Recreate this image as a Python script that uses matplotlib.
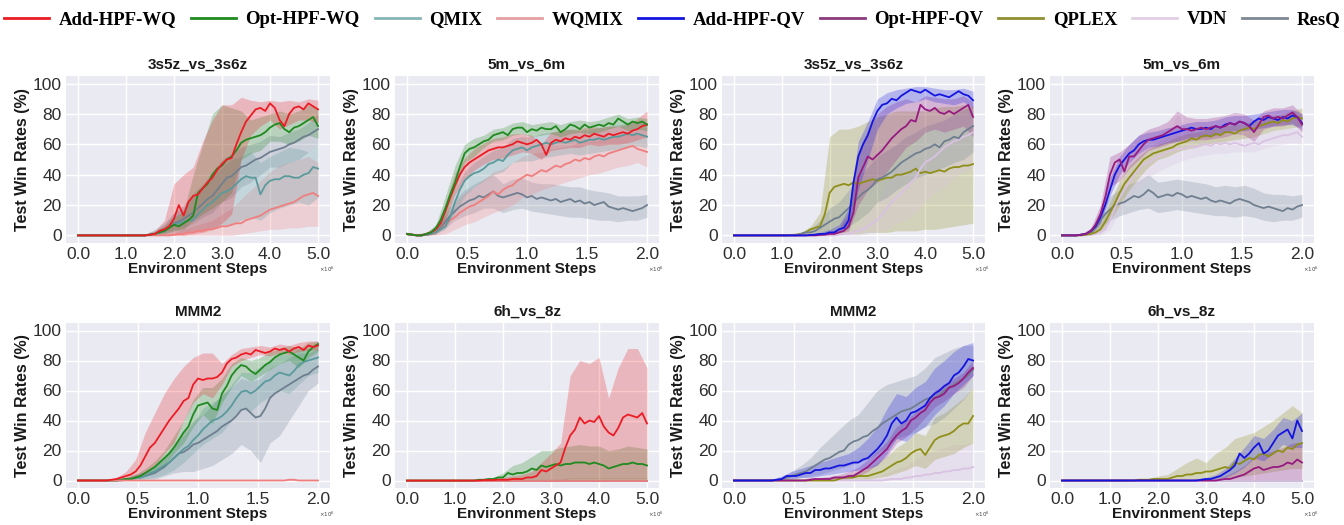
import numpy as np
import matplotlib
matplotlib.use("Agg")
import matplotlib.pyplot as plt
from matplotlib.lines import Line2D
from matplotlib.font_manager import FontProperties

# ---------------- x grids (in millions of steps) ----------------
# band grids (26 points)
steps_5 = [0.0, 0.2, 0.4, 0.6, 0.8, 1.0, 1.2, 1.4, 1.6, 1.8, 2.0, 2.2, 2.4,
           2.6, 2.8, 3.0, 3.2, 3.4, 3.6, 3.8, 4.0, 4.2, 4.4, 4.6, 4.8, 5.0]
steps_2 = [0.0, 0.08, 0.16, 0.24, 0.32, 0.40, 0.48, 0.56, 0.64, 0.72, 0.80,
           0.88, 0.96, 1.04, 1.12, 1.20, 1.28, 1.36, 1.44, 1.52, 1.60, 1.68,
           1.76, 1.84, 1.92, 2.00]
# mean-curve grids (51 points)
fine_5 = [0.0, 0.1, 0.2, 0.3, 0.4, 0.5, 0.6, 0.7, 0.8, 0.9, 1.0, 1.1, 1.2,
          1.3, 1.4, 1.5, 1.6, 1.7, 1.8, 1.9, 2.0, 2.1, 2.2, 2.3, 2.4, 2.5,
          2.6, 2.7, 2.8, 2.9, 3.0, 3.1, 3.2, 3.3, 3.4, 3.5, 3.6, 3.7, 3.8,
          3.9, 4.0, 4.1, 4.2, 4.3, 4.4, 4.5, 4.6, 4.7, 4.8, 4.9, 5.0]
fine_2 = [0.00, 0.04, 0.08, 0.12, 0.16, 0.20, 0.24, 0.28, 0.32, 0.36, 0.40,
          0.44, 0.48, 0.52, 0.56, 0.60, 0.64, 0.68, 0.72, 0.76, 0.80, 0.84,
          0.88, 0.92, 0.96, 1.00, 1.04, 1.08, 1.12, 1.16, 1.20, 1.24, 1.28,
          1.32, 1.36, 1.40, 1.44, 1.48, 1.52, 1.56, 1.60, 1.64, 1.68, 1.72,
          1.76, 1.80, 1.84, 1.88, 1.92, 1.96, 2.00]
Z26 = [0] * 26
Z51 = [0] * 51

# ---------------- Panel 1: 3s5z_vs_3s6z (WQ group) ----------------
p1_add = [0,0,0,0,0,0,0,0,0,0,0,0,0,0,0,0.5,1,3,4,6,11,20,13,22,26,27,31,35,38,43,47,50,51,60,68,75,79,83,84,82,87,84,76,72,80,84,85,83,87,85,83]
p1_add_lo = [0,0,0,0,0,0,0,0,0,0,0,0,1,2,4,8,14,50,66,72,76,70,73,76,76,74]
p1_add_hi = [0,0,0,0,0,0,0,1,3,10,34,40,45,62,76,86,86,91,89,88,89,88,89,88,90,89]
p1_opt = [0,0,0,0,0,0,0,0,0,0,0,0,0,0,0,0.5,1,2,3,5,7,6,8,10,13,28,31,34,40,44,46,50,52,56,61,63,64,65,66,68,71,73,74,70,68,71,72,74,76,78,72]
p1_opt_lo = [0,0,0,0,0,0,0,0,0,1,3,4,10,14,18,22,28,50,54,56,62,62,60,62,66,64]
p1_opt_hi = [0,0,0,0,0,0,0,1,2,6,12,16,40,60,80,86,84,82,76,78,80,82,80,82,86,84]
p1_resq = [0,0,0,0,0,0,0,0,0,0,0,0,0,0,0,0.5,1,2,3,5,8,9,11,13,15,18,21,24,26,30,34,38,39,42,45,46,48,50,51,53,55,56,57,58,60,61,63,65,66,68,70]
p1_resq_lo = [0,0,0,0,0,0,0,0,1,2,4,5,8,12,15,22,25,32,35,40,45,45,48,50,55,60]
p1_resq_hi = [0,0,0,0,0,0,0,1,3,7,15,20,28,34,42,50,54,58,60,62,66,65,68,70,74,80]
p1_qmix = [0,0,0,0,0,0,0,0,0,0,0,0,0,0,0,0.5,1,2,3,5,7,8,9,10,10,14,17,20,22,25,28,29,31,34,37,39,38,38,27,33,36,37,37,39,39,38,38,40,41,45,44]
p1_qmix_lo = [0,0,0,0,0,0,0,0,0,1,2,2,3,4,5,6,8,10,12,10,15,18,20,22,20,25]
p1_qmix_hi = [0,0,0,0,0,0,0,1,4,8,15,18,25,30,38,45,50,52,55,48,52,55,58,57,55,60]
p1_wq = [0,0,0,0,0,0,0,0,0,0,0,0,0,0,0,0,0,0,0,0,0.5,1,1,2,2,3,3,4,4,5,6,6,7,8,8,10,11,12,13,15,17,18,19,20,21,22,24,26,27,28,26]
p1_wq_lo = [0,0,0,0,0,0,0,0,0,0,0,0,0,0,0,0,0,1,2,3,4,4,5,5,6,6]
p1_wq_hi = [0,0,0,0,0,0,0,0,0,1,2,4,6,8,10,14,18,24,30,36,42,46,48,50,52,48]

# ---------------- Panel 2: 5m_vs_6m (WQ group) ----------------
p2_opt = [1,0.5,0,0,1,2,5,10,18,27,35,45,54,57,58,60,62,63,66,67,68,66,70,71,71,68,70,69,71,70,70,72,68,70,73,72,70,73,71,72,73,72,74,73,77,75,73,75,74,75,73]
p2_opt_lo = [0,0,0,2,12,30,48,52,58,62,63,66,67,65,66,67,65,67,68,67,68,70,72,69,70,69]
p2_opt_hi = [2,1,2,7,26,46,60,64,66,70,71,74,75,73,74,75,73,75,76,75,76,78,80,77,78,77]
p2_add = [1,0.5,0,0,1,2,4,8,16,25,33,40,45,48,50,52,54,56,57,58,58,59,60,62,61,60,61,63,60,53,61,63,62,64,63,65,64,66,65,67,66,65,67,66,67,68,67,69,70,72,73]
p2_add_lo = [0,0,0,1,10,27,37,43,47,50,51,53,55,54,50,56,57,58,58,60,59,60,60,61,63,65]
p2_add_hi = [2,1,2,6,21,41,51,57,61,64,65,67,67,66,60,68,69,70,70,72,71,72,72,73,77,82]
p2_qmix = [1,0.5,0,0,0.5,1,2,4,6,12,22,30,36,39,41,42,44,47,48,50,49,53,56,57,58,56,58,59,60,61,60,61,62,61,62,63,61,62,63,63,64,63,64,65,65,66,67,66,67,66,65]
p2_qmix_lo = [0,0,0,1,4,15,26,32,36,40,42,48,49,49,51,52,53,54,53,54,55,56,57,58,59,58]
p2_qmix_hi = [2,1,1,4,12,30,42,48,52,56,58,64,65,65,67,68,69,70,69,70,71,72,73,74,75,74]
p2_wq = [1,0.5,0,0,0.5,1,2,4,7,10,12,15,17,19,20,22,24,26,29,27,30,32,33,36,38,40,39,41,43,42,44,46,45,47,48,50,49,51,50,52,53,52,54,55,56,57,58,59,57,56,55]
p2_wq_lo = [0,0,0,0,1,4,7,9,12,15,17,20,25,27,30,32,34,36,38,40,41,43,45,46,48,45]
p2_wq_hi = [2,1,1,4,12,22,28,32,37,42,44,48,52,54,55,57,58,59,62,62,63,65,66,68,68,66]
p2_resq = [1,0.5,0,0,0.5,1,2,5,9,13,16,19,21,23,24,26,25,27,29,26,25,26,27,28,27,25,26,24,25,24,23,24,22,23,24,22,23,21,22,20,21,22,19,18,17,18,17,16,17,18,20]
p2_resq_lo = [0,0,0,1,5,10,13,15,18,18,15,17,18,16,15,14,13,12,12,11,10,10,9,10,10,12]
p2_resq_hi = [2,1,1,4,14,24,30,34,37,40,34,37,38,35,34,34,33,32,32,30,29,28,26,26,26,27]

# ---------------- Panel 3: 3s5z_vs_3s6z (QV group) ----------------
p3_add = [0,0,0,0,0,0,0,0,0,0,0,0,0,0,0,0,0.3,0.5,1,1,2,2,4,5,10,35,52,60,66,75,82,86,87,90,89,92,94,96,95,94,96,94,92,93,92,91,93,95,93,92,89]
p3_add_lo = [0,0,0,0,0,0,0,0,0,0,1,2,5,30,50,70,80,84,87,88,90,88,87,86,88,84]
p3_add_hi = [0,0,0,0,0,0,0,0,1,2,4,7,18,62,75,90,94,96,97,98,98,97,96,96,97,95]
p3_opt = [0,0,0,0,0,0,0,0,0,0,0,0,0,0,0,0,0,0,0.3,0.5,1,1,2,3,6,15,38,45,52,50,53,56,60,64,67,70,72,76,75,86,83,82,84,81,80,82,80,82,84,86,78]
p3_opt_lo = [0,0,0,0,0,0,0,0,0,0,0,1,3,20,30,35,42,50,58,62,68,70,68,70,72,65]
p3_opt_hi = [0,0,0,0,0,0,0,0,0,1,2,5,15,55,70,80,85,88,90,88,92,91,90,90,92,88]
p3_qplex = [0,0,0,0,0,0,0,0,0,0,0,0,0.3,0.5,1,2,4,5,6,14,28,32,33,34,33,35,34,35,36,37,36,37,38,38,40,40,41,42,44,41,42,41,42,43,42,44,45,45,46,46,47]
p3_qplex_lo = [0,0,0,0,0,0,0,0,0,0,1,1,1,1,2,2,2,3,3,3,4,4,5,6,7,8]
p3_qplex_hi = [0,0,0,0,0,0,1,2,6,15,65,70,70,72,75,78,80,82,82,82,82,84,85,85,86,85]
p3_resq = [0,0,0,0,0,0,0,0,0,0,0,0,0,0,1,2,2,3,5,7,9,11,12,15,18,21,25,28,30,33,37,38,40,42,45,48,50,52,54,55,57,58,60,58,62,63,65,64,68,70,72]
p3_resq_lo = [0,0,0,0,0,0,0,0,0,1,3,4,6,10,15,22,25,30,34,38,40,43,45,48,50,55]
p3_resq_hi = [0,0,0,0,0,0,0,2,4,10,18,22,30,38,45,52,56,60,65,68,72,74,76,80,83,85]
p3_vdn = [0,0,0,0,0,0,0,0,0,0,0,0,0,0,0,0,0,0,0,0,0,0,0.5,1,1,2,3,4,6,8,10,14,18,22,25,28,31,35,38,44,48,50,52,55,58,60,62,63,65,66,68]
p3_vdn_lo = [0,0,0,0,0,0,0,0,0,0,0,0,0,0,1,2,4,8,10,15,22,28,32,38,42,45]
p3_vdn_hi = [0,0,0,0,0,0,0,0,0,0,0,1,3,8,15,22,35,45,52,60,68,72,76,78,80,82]

# ---------------- Panel 4: 5m_vs_6m (QV group) ----------------
p4_add = [0,0,0,0,0.5,1,3,6,12,20,30,40,46,50,54,56,60,62,63,63,64,65,66,67,68,69,70,71,70,70,71,70,72,71,73,74,73,75,74,72,75,77,76,78,77,76,78,77,79,78,74]
p4_add_lo = [0,0,0,1,8,26,40,48,54,58,59,61,62,64,65,65,66,68,69,69,70,71,72,73,73,70]
p4_add_hi = [0,1,1,3,16,38,52,60,66,68,69,71,72,74,75,75,76,78,79,79,80,81,82,83,83,80]
p4_opt = [0,0,0,0,0.5,1,3,7,14,25,40,48,50,42,52,52,56,60,63,64,65,66,68,70,72,70,70,69,70,71,70,71,72,71,72,74,73,75,74,72,68,73,78,79,77,78,77,79,81,78,73]
p4_opt_lo = [0,0,0,1,8,32,36,44,50,56,58,60,62,62,63,63,64,65,67,66,62,70,72,72,74,68]
p4_opt_hi = [0,1,1,5,20,52,55,60,66,70,72,75,82,78,77,77,78,79,81,80,76,82,84,84,86,80]
p4_qplex = [0,0,0,0,0,0.5,1,2,4,9,15,21,28,34,38,42,46,50,52,54,55,56,57,58,60,61,62,64,63,65,66,65,67,66,68,68,67,69,70,71,70,72,73,74,75,74,76,75,77,78,77]
p4_qplex_lo = [0,0,0,0,2,10,20,30,38,45,50,52,55,57,58,60,61,62,63,64,65,67,69,70,71,72]
p4_qplex_hi = [0,0,1,2,8,22,36,46,52,57,60,62,65,67,68,70,71,72,73,74,75,77,79,80,82,84]
p4_vdn = [0,0,0,0,0,0,0.5,1,2,4,10,18,25,30,35,40,44,47,48,50,52,53,55,56,57,57,58,59,58,60,60,59,61,60,61,60,61,60,59,60,61,60,62,63,64,65,66,66,67,68,65]
p4_vdn_lo = [0,0,0,0,0,4,15,25,32,38,42,45,48,50,52,53,54,54,55,55,55,57,59,60,61,60]
p4_vdn_hi = [0,0,0,1,5,18,35,45,52,58,62,65,80,70,68,67,66,66,67,66,65,67,69,70,71,70]
p4_resq = [0,0,0,0,0.5,1,2,5,10,14,17,20,21,22,24,26,25,27,30,28,25,26,27,26,28,27,25,26,25,24,25,23,22,23,22,21,23,24,23,22,20,19,18,19,18,17,16,18,17,19,20]
p4_resq_lo = [0,0,0,1,5,10,13,15,17,18,15,16,17,16,15,14,13,13,12,13,12,10,9,10,10,12]
p4_resq_hi = [0,0,1,4,16,26,30,34,36,40,35,36,37,36,35,34,32,33,32,33,31,28,27,27,26,27]

# ---------------- Panel 5: MMM2 (WQ group) ----------------
p5_add = [0,0,0,0,0,0,0,0.5,1,2,3,4,6,10,16,22,25,30,35,40,44,48,53,55,64,68,67,68,68,69,72,78,81,82,84,85,84,87,86,85,86,88,87,88,86,88,89,87,90,89,90]
p5_add_lo = [0,0,0,0,0,1,2,4,10,18,25,40,52,58,55,64,76,80,82,84,83,85,84,86,87,87]
p5_add_hi = [0,0,0,0,2,6,14,32,45,58,68,76,82,85,85,78,84,88,89,90,89,91,90,92,93,93]
p5_opt = [0,0,0,0,0,0,0,0,0,0.5,1,1,2,3,5,7,9,12,15,18,22,27,32,36,44,50,51,52,48,47,58,63,70,74,77,76,73,71,74,77,79,82,84,85,86,84,82,80,86,89,91]
p5_opt_lo = [0,0,0,0,0,0,1,3,5,10,18,25,36,44,38,52,62,70,66,70,74,78,80,75,82,86]
p5_opt_hi = [0,0,0,0,1,2,4,8,13,20,30,40,54,62,62,68,78,82,80,82,86,88,90,88,92,93]
p5_qmix = [0,0,0,0,0,0,0,0,0,0.5,1,1,2,2,3,5,6,8,10,12,15,18,21,23,27,30,34,37,40,41,43,46,50,55,59,60,58,60,63,66,67,70,72,71,70,73,77,79,80,81,82]
p5_qmix_lo = [0,0,0,0,0,0,1,1,2,4,7,12,18,24,28,32,40,48,46,52,56,60,58,64,70,72]
p5_qmix_hi = [0,0,0,0,1,2,4,6,10,16,24,30,38,48,52,56,64,72,72,76,80,84,84,88,88,90]
p5_wq = [0,0,0,0,0,0,0,0,0,0,0,0,0,0,0,0,0,0,0,0,0,0,0,0,0,0,0,0,0,0,0,0,0,0,0,0,0,0,0,0,0,0,0,0,0.5,0.5,0,0,0,0,0]
p5_wq_lo = Z26
p5_wq_hi = [0,0,0,0,0,0,0,0,0,0,0,0,0,0,0,0,0,0,0,0,0,0.5,1,0.5,0,0]
p5_resq = [0,0,0,0,0,0,0,0,0,0,0.5,1,2,2,3,4,5,7,9,12,15,18,19,21,24,25,27,29,31,33,36,38,40,43,47,48,45,42,43,48,55,58,60,62,64,66,68,70,71,74,76]
p5_resq_lo = [0,0,0,0,0,0,0,1,1,3,5,6,6,8,10,14,18,24,20,12,25,30,40,50,60,65]
p5_resq_hi = [0,0,0,0,1,2,4,6,10,16,24,32,40,44,50,58,62,68,66,68,75,78,82,85,85,88]

# ---------------- Panel 6: 6h_vs_8z (WQ group) ----------------
p6_add = [0,0,0,0,0,0,0,0,0,0,0,0,0,0,0,0,0.3,0.3,0.3,0.5,0.5,0.5,1,1,1,2,2,3,7,6,8,10,12,22,30,34,42,38,40,39,43,36,32,30,35,42,44,43,42,45,38]
p6_add_lo = [0,0,0,0,0,0,0,0,0,0,0,0,0,0,0,0,0,1,1,1,1,1,1,1,1,1]
p6_add_hi = [0,0,0,0,0,0,0,0,1,1,2,3,4,6,12,18,25,70,80,78,82,55,75,88,88,75]
p6_opt = [0,0,0,0,0,0,0,0,0,0,0,0,0,0,0,0.5,0.5,1,1,2,2,5,4,5,5,6,8,7,10,9,10,11,10,11,11,12,12,12,11,12,11,10,8,9,10,11,11,12,11,11,10]
p6_opt_lo = Z26
p6_opt_hi = [0,0,0,0,0,0,0,0,1,2,5,10,12,16,20,20,22,23,24,23,23,20,21,23,22,21]
p6_qmix = Z51
p6_qmix_lo = Z26
p6_qmix_hi = [0,0,0,0,0,0,0,0,0,0,0,0,0,0,0,0.5,0.5,0.5,0.5,0.5,0.5,0.5,0.5,0.5,0.5,0.5]
p6_wq = Z51
p6_wq_lo = Z26
p6_wq_hi = [0,0,0,0,0,0,0,0,0,0,0,0,0,0,1,1,1,2,2,2,2,2,2,2,2,2]
p6_resq = Z51
p6_resq_lo = Z26
p6_resq_hi = Z26

# ---------------- Panel 7: MMM2 (QV group) ----------------
p7_add = [0,0,0,0,0,0,0,0,0,0.5,1,3,3,3,4,5,5,7,7,8,8,9,10,10,11,12,12,14,15,18,21,25,30,38,42,38,40,45,46,48,50,55,58,60,63,65,70,72,76,81,80]
p7_add_lo = [0,0,0,0,0,0,1,2,2,3,4,5,6,7,8,10,18,28,26,32,36,44,50,58,64,70]
p7_add_hi = [0,0,0,0,1,3,6,8,10,12,14,16,18,22,28,36,48,58,56,62,66,75,80,86,90,92]
p7_opt = [0,0,0,0,0,0,0,0,0,0,0,0,0,0,0,0,0.5,1,1,1,1,2,2,2,3,3,5,7,9,12,15,18,21,26,30,33,35,40,42,45,47,52,55,56,58,62,63,65,68,72,75]
p7_opt_lo = [0,0,0,0,0,0,0,0,0,0,0,1,1,3,6,11,16,25,29,35,42,49,53,58,62,70]
p7_opt_hi = [0,0,0,0,0,0,1,1,2,2,3,4,6,9,14,20,26,36,40,46,52,60,64,68,72,80]
p7_qplex = [0,0,0,0,0,0,0,0,0,0,0,0,0,0,0,0,0,0,0,0,0,0,1,2,2,2,3,3,3,4,5,6,8,10,12,13,15,18,20,21,17,22,27,29,30,31,33,36,38,38,43]
p7_qplex_lo = [0,0,0,0,0,0,0,0,0,0,0,0,1,1,1,2,3,5,7,10,8,14,16,18,22,25]
p7_qplex_hi = [0,0,0,0,0,0,0,0,1,1,2,3,4,6,8,12,16,22,26,32,30,42,45,50,55,62]
p7_resq = [0,0,0,0,0,0,0,0,0,0.5,1,2,3,4,5,6,8,10,12,14,15,17,19,20,24,26,27,29,30,33,35,38,40,42,44,46,47,48,50,52,54,55,55,57,60,62,64,66,68,70,74]
p7_resq_lo = [0,0,0,0,0,0,1,2,3,4,6,8,10,12,14,18,22,28,30,32,36,38,42,48,54,62]
p7_resq_hi = [0,0,0,0,1,2,6,10,15,22,28,34,40,44,52,60,64,66,68,70,75,82,85,88,90,90]
p7_vdn = [0,0,0,0,0,0,0,0,0,0,0,0,0,0,0,0,0,0,0,0,0,0,0,0,0,0,0,0,0,0,0,0,0.5,1,1,1,2,2,3,3,4,4,5,5,6,6,7,7,8,8,9]
p7_vdn_lo = Z26
p7_vdn_hi = [0,0,0,0,0,0,0,0,0,0,0,0,1,1,2,3,5,8,10,14,18,20,22,24,24,25]

# ---------------- Panel 8: 6h_vs_8z (QV group) ----------------
p8_qplex = [0,0,0,0,0,0,0,0,0,0,0,0,0,0,0,0,0.5,0.5,0.5,1,1,1,1,2,3,3,4,4,5,5,6,6,7,8,9,8,12,11,13,15,14,17,18,16,18,20,19,22,21,24,25]
p8_qplex_lo = [0,0,0,0,0,0,0,0,0,0,0,0,0,1,1,1,1,2,2,3,4,5,6,7,8,8]
p8_qplex_hi = [0,0,0,0,0,0,0,0,1,1,3,4,8,12,15,12,18,22,28,30,32,36,40,45,50,45]
p8_add = [0,0,0,0,0,0,0,0,0,0,0,0,0,0,0,0,0,0,0,0,0,0,0,0,0,0,0,0,0,0.5,1,1,2,3,5,7,10,18,15,18,22,25,18,20,25,30,32,34,28,40,33]
p8_add_lo = [0,0,0,0,0,0,0,0,0,0,0,0,0,0,0,0,1,2,5,9,15,13,18,24,22,22]
p8_add_hi = [0,0,0,0,0,0,0,0,0,0,0,0,0,0,1,2,4,8,15,22,30,28,34,42,40,45]
p8_opt = [0,0,0,0,0,0,0,0,0,0,0,0,0,0,0,0,0,0,0,0,0,0,0,0,0,0,0,0,0,0,0,0,0,0.5,1,1,2,3,4,6,8,9,7,8,9,9,10,12,11,14,12]
p8_opt_lo = Z26
p8_opt_hi = [0,0,0,0,0,0,0,0,0,0,0,0,0,0,0,0,1,3,6,10,16,18,20,22,25,25]
p8_vdn = Z51
p8_vdn_lo = Z26
p8_vdn_hi = [0,0,0,0,0,0,0,0,0,0,0,0,0,0,0,0,0,0,0,0.5,0.5,0.5,0.5,0.5,0.5,0.5]
p8_resq = Z51
p8_resq_lo = Z26
p8_resq_hi = Z26

titles = ["3s5z_vs_3s6z", "5m_vs_6m", "3s5z_vs_3s6z", "5m_vs_6m",
          "MMM2", "6h_vs_8z", "MMM2", "6h_vs_8z"]
legend_labels = ["Add-HPF-WQ", "Opt-HPF-WQ", "QMIX", "WQMIX", "Add-HPF-QV",
                 "Opt-HPF-QV", "QPLEX", "VDN", "ResQ"]

# ---------------- styles ----------------
colors = {
    "Add-HPF-WQ": "#ec1c24",
    "Opt-HPF-WQ": "#1f8a1f",
    "QMIX": "#5a9a9c",
    "WQMIX": "#ef7f7f",
    "Add-HPF-QV": "#1414e0",
    "Opt-HPF-QV": "#961a80",
    "QPLEX": "#8e8e18",
    "VDN": "#d9c2e2",
    "ResQ": "#6f7f8f",
}
legend_colors = dict(colors)
legend_colors.update({"QMIX": "#86b6b6", "WQMIX": "#e4a0a0", "VDN": "#e0d0e4",
                      "Opt-HPF-QV": "#8e3a80", "QPLEX": "#8e9030",
                      "ResQ": "#7d8890"})

# Each panel: (mean grid, band grid, series in draw order bottom->top)
panels = [
    (fine_5, steps_5, [("ResQ", p1_resq, p1_resq_lo, p1_resq_hi),
                       ("WQMIX", p1_wq, p1_wq_lo, p1_wq_hi),
                       ("QMIX", p1_qmix, p1_qmix_lo, p1_qmix_hi),
                       ("Opt-HPF-WQ", p1_opt, p1_opt_lo, p1_opt_hi),
                       ("Add-HPF-WQ", p1_add, p1_add_lo, p1_add_hi)]),
    (fine_2, steps_2, [("ResQ", p2_resq, p2_resq_lo, p2_resq_hi),
                       ("WQMIX", p2_wq, p2_wq_lo, p2_wq_hi),
                       ("QMIX", p2_qmix, p2_qmix_lo, p2_qmix_hi),
                       ("Add-HPF-WQ", p2_add, p2_add_lo, p2_add_hi),
                       ("Opt-HPF-WQ", p2_opt, p2_opt_lo, p2_opt_hi)]),
    (fine_5, steps_5, [("QPLEX", p3_qplex, p3_qplex_lo, p3_qplex_hi),
                       ("VDN", p3_vdn, p3_vdn_lo, p3_vdn_hi),
                       ("ResQ", p3_resq, p3_resq_lo, p3_resq_hi),
                       ("Opt-HPF-QV", p3_opt, p3_opt_lo, p3_opt_hi),
                       ("Add-HPF-QV", p3_add, p3_add_lo, p3_add_hi)]),
    (fine_2, steps_2, [("ResQ", p4_resq, p4_resq_lo, p4_resq_hi),
                       ("VDN", p4_vdn, p4_vdn_lo, p4_vdn_hi),
                       ("QPLEX", p4_qplex, p4_qplex_lo, p4_qplex_hi),
                       ("Add-HPF-QV", p4_add, p4_add_lo, p4_add_hi),
                       ("Opt-HPF-QV", p4_opt, p4_opt_lo, p4_opt_hi)]),
    (fine_2, steps_2, [("ResQ", p5_resq, p5_resq_lo, p5_resq_hi),
                       ("QMIX", p5_qmix, p5_qmix_lo, p5_qmix_hi),
                       ("Opt-HPF-WQ", p5_opt, p5_opt_lo, p5_opt_hi),
                       ("WQMIX", p5_wq, p5_wq_lo, p5_wq_hi),
                       ("Add-HPF-WQ", p5_add, p5_add_lo, p5_add_hi)]),
    (fine_5, steps_5, [("ResQ", p6_resq, p6_resq_lo, p6_resq_hi),
                       ("QMIX", p6_qmix, p6_qmix_lo, p6_qmix_hi),
                       ("WQMIX", p6_wq, p6_wq_lo, p6_wq_hi),
                       ("Opt-HPF-WQ", p6_opt, p6_opt_lo, p6_opt_hi),
                       ("Add-HPF-WQ", p6_add, p6_add_lo, p6_add_hi)]),
    (fine_2, steps_2, [("VDN", p7_vdn, p7_vdn_lo, p7_vdn_hi),
                       ("QPLEX", p7_qplex, p7_qplex_lo, p7_qplex_hi),
                       ("ResQ", p7_resq, p7_resq_lo, p7_resq_hi),
                       ("Opt-HPF-QV", p7_opt, p7_opt_lo, p7_opt_hi),
                       ("Add-HPF-QV", p7_add, p7_add_lo, p7_add_hi)]),
    (fine_5, steps_5, [("ResQ", p8_resq, p8_resq_lo, p8_resq_hi),
                       ("VDN", p8_vdn, p8_vdn_lo, p8_vdn_hi),
                       ("QPLEX", p8_qplex, p8_qplex_lo, p8_qplex_hi),
                       ("Opt-HPF-QV", p8_opt, p8_opt_lo, p8_opt_hi),
                       ("Add-HPF-QV", p8_add, p8_add_lo, p8_add_hi)]),
]

# ---------------- figure ----------------
W, H = 1344, 525
fig = plt.figure(figsize=(W / 100, H / 100), dpi=100)
fig.patch.set_facecolor("white")

col_px = [(66, 330), (395, 659), (722, 985), (1050, 1314)]
row_px = [(76, 243), (323, 488)]

sans = "Liberation Sans"
tick_color = "#2e2e2e"

for i, (xm, xb, series) in enumerate(panels):
    r, c = divmod(i, 4)
    x0, x1 = col_px[c]
    y0, y1 = row_px[r]
    ax = fig.add_axes([x0 / W, 1 - y1 / H, (x1 - x0) / W, (y1 - y0) / H])
    ax.set_facecolor("#eaeaf2")
    for s in ax.spines.values():
        s.set_visible(False)
    ax.grid(True, color="white", linewidth=1.0)
    ax.set_axisbelow(True)
    for lab, m, lo, hi in series:
        ax.fill_between(xb, lo, hi, color=colors[lab], alpha=0.25,
                        linewidth=0)
    for lab, m, lo, hi in series:
        ax.plot(xm, m, color=colors[lab], linewidth=1.3)
    xmax = xm[-1]
    ax.set_xlim(-0.05 * xmax, 1.05 * xmax)
    ax.set_ylim(-5, 105)
    ax.set_yticks([0, 20, 40, 60, 80, 100])
    if xmax > 3:
        xt = [0, 1, 2, 3, 4, 5]
    else:
        xt = [0, 0.5, 1.0, 1.5, 2.0]
    ax.set_xticks(xt)
    ax.set_xticklabels(["%.1f" % v for v in xt])
    ax.tick_params(length=0, pad=3, labelsize=12.5, labelcolor=tick_color)
    for lbl in ax.get_xticklabels() + ax.get_yticklabels():
        lbl.set_fontfamily(sans)
    ax.set_title(titles[i], fontsize=11, fontweight="bold", family=sans,
                 color="#1a1a1a", pad=5)
    ax.set_ylabel("Test Win Rates (%)", fontsize=11.5, fontweight="bold",
                  family=sans, color="#1a1a1a", labelpad=2)
    ax.set_xlabel("Environment Steps", fontsize=11, fontweight="bold",
                  family=sans, color="#1a1a1a", labelpad=0)
    ax.text(0.99, -0.16, r"$\times10^{6}$", transform=ax.transAxes,
            fontsize=4, ha="center", va="center", color="#444444")

handles = [Line2D([0], [0], color=legend_colors[l], linewidth=2)
           for l in legend_labels]
fig.legend(handles, legend_labels, loc="upper center",
           bbox_to_anchor=(0.5, 1.0), ncol=9, frameon=False,
           prop=FontProperties(family="Liberation Serif", weight="bold",
                               size=13.5),
           handlelength=2.4, handletextpad=0.5, columnspacing=0.8,
           borderaxespad=0.2)

fig.savefig("out.png", dpi=100)
